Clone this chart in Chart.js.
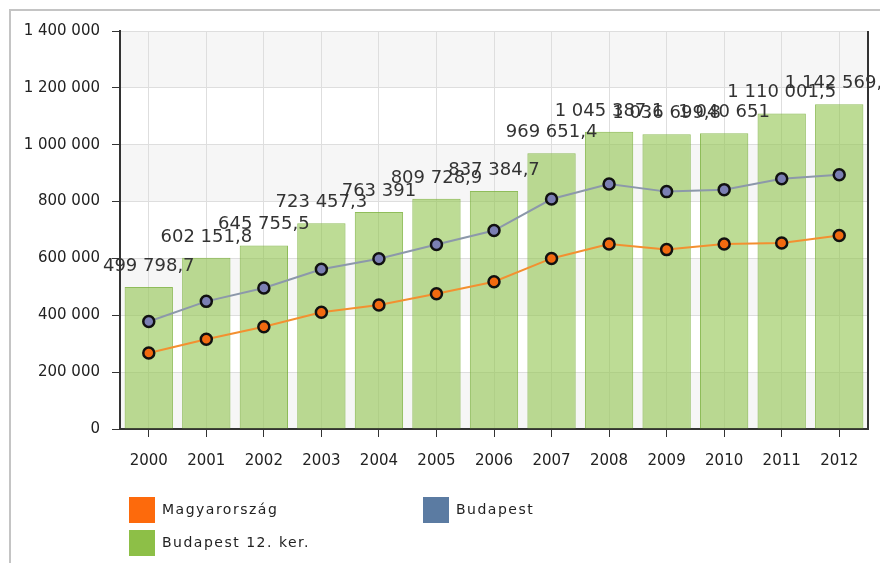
<!DOCTYPE html>
<html><head><meta charset="utf-8">
<script src="https://cdn.jsdelivr.net/npm/chart.js@4.4.0/dist/chart.umd.min.js"></script>
<style>html,body{margin:0;padding:0;background:#fff}#wrap{width:880px;height:563px;position:relative}</style>
</head><body><div id="wrap"><canvas id="c" width="880" height="563"></canvas></div>
<script>
const years = ['2000','2001','2002','2003','2004','2005','2006','2007','2008','2009','2010','2011','2012'];
const kerulet12 = [499798.7, 602151.8, 645755.5, 723457.3, 763391, 809728.9, 837384.7, 969651.4, 1045387.1, 1036699.8, 1040651, 1110001.5, 1142569.5];
const budapest = [378000, 449000, 496000, 562000, 599000, 649000, 698000, 809000, 862000, 835000, 842000, 880000, 894000];
const magyarorszag = [267000, 316000, 360000, 411000, 436000, 476000, 518000, 600000, 651000, 631000, 651000, 654000, 681000];
const legendNames = ['Magyarország', 'Budapest', 'Budapest 12. ker.'];

function fmt(v){
  const parts = String(v).split('.');
  const ip = parts[0].replace(/\B(?=(\d{3})+(?!\d))/g, ' ');
  return parts[1] ? ip + ',' + parts[1] : ip;
}

const bands = {
  id: 'bands',
  beforeDraw(chart){
    const {ctx, chartArea: a, scales: {y}} = chart;
    ctx.save();
    ctx.fillStyle = '#fff';
    ctx.fillRect(0, 0, chart.width, chart.height);
    ctx.fillStyle = '#f6f6f6';
    const t = y.ticks.map(k => k.value);
    for (let i = 0; i < t.length - 1; i += 2) {
      const y0 = y.getPixelForValue(t[i]), y1 = y.getPixelForValue(t[i+1]);
      ctx.fillRect(a.left, y1, a.right - a.left, y0 - y1);
    }
    ctx.strokeStyle = '#c4c4c4';
    ctx.lineWidth = 2;
    ctx.beginPath();
    ctx.moveTo(10, chart.height);
    ctx.lineTo(10, 10);
    ctx.lineTo(chart.width, 10);
    ctx.stroke();
    ctx.restore();
  }
};

const rightBorder = {
  id: 'rightBorder',
  afterDatasetsDraw(chart){
    const {ctx, chartArea: a} = chart;
    ctx.save();
    ctx.strokeStyle = '#333';
    ctx.lineWidth = 2;
    ctx.beginPath();
    ctx.moveTo(a.right, a.top);
    ctx.lineTo(a.right, a.bottom);
    ctx.stroke();
    ctx.restore();
  }
};

const barLabels = {
  id: 'barLabels',
  afterDraw(chart){
    const {ctx} = chart;
    const meta = chart.getDatasetMeta(2);
    ctx.save();
    ctx.font = '18px "DejaVu Sans"';
    ctx.fillStyle = '#333';
    ctx.textAlign = 'center';
    ctx.textBaseline = 'alphabetic';
    meta.data.forEach((bar, i) => {
      ctx.fillText(fmt(chart.data.datasets[2].data[i]), bar.x, bar.y - 16);
    });
    ctx.restore();
  }
};

const legendColors = ['#fd6a0c', '#5b7ba2', '#8dbf47'];
const customLegend = {
  id: 'customLegend',
  afterDraw(chart){
    const {ctx} = chart;
    const pos = [[129, 497], [423, 497], [129, 530]];
    ctx.save();
    ctx.font = '14px "DejaVu Sans"';
    ctx.letterSpacing = '1.5px';
    ctx.textBaseline = 'middle';
    legendNames.forEach((name, i) => {
      const [x, y] = pos[i];
      ctx.fillStyle = legendColors[i];
      ctx.fillRect(x, y, 26, 26);
      ctx.fillStyle = '#222';
      ctx.fillText(name, x + 33, y + 13);
    });
    ctx.restore();
  }
};

new Chart(document.getElementById('c'), {
  type: 'bar',
  data: {
    labels: years,
    datasets: [
      {type: 'line', label: legendNames[0], data: magyarorszag, borderColor: '#f39030', borderWidth: 2,
       pointBackgroundColor: '#f26a10', pointBorderColor: '#111', pointBorderWidth: 2.5, pointRadius: 5.5, tension: 0, order: 0},
      {type: 'line', label: legendNames[1], data: budapest, borderColor: '#8c98aa', borderWidth: 2,
       pointBackgroundColor: '#7b7fb3', pointBorderColor: '#111', pointBorderWidth: 2.5, pointRadius: 5.5, tension: 0, order: 1},
      {type: 'bar', label: legendNames[2], data: kerulet12, backgroundColor: 'rgba(145,196,78,0.6)',
       borderColor: 'rgba(125,178,62,0.85)', borderWidth: 1, categoryPercentage: 1, barPercentage: 0.84, order: 2}
    ]
  },
  options: {
    responsive: false,
    animation: false,
    events: [],
    layout: {padding: {left: 10, top: 31, right: 12, bottom: 89}},
    plugins: {legend: {display: false}, tooltip: {enabled: false}},
    scales: {
      x: {
        grid: {offset: false, color: '#dedede', tickColor: '#333', tickLength: 8},
        border: {color: '#333', width: 2},
        ticks: {font: {family: 'DejaVu Sans', size: 15}, color: '#222', padding: 15, maxRotation: 0},
        afterFit(s){ s.height = 45; }
      },
      y: {
        min: 0, max: 1400000,
        ticks: {stepSize: 200000, callback: v => fmt(v), font: {family: 'DejaVu Sans', size: 15}, color: '#222', padding: 12},
        grid: {color: '#dedede', tickColor: '#333', tickLength: 8},
        border: {color: '#333', width: 2},
        afterFit(s){ s.width = 110; }
      }
    }
  },
  plugins: [bands, rightBorder, barLabels, customLegend]
});
</script>
</body></html>
